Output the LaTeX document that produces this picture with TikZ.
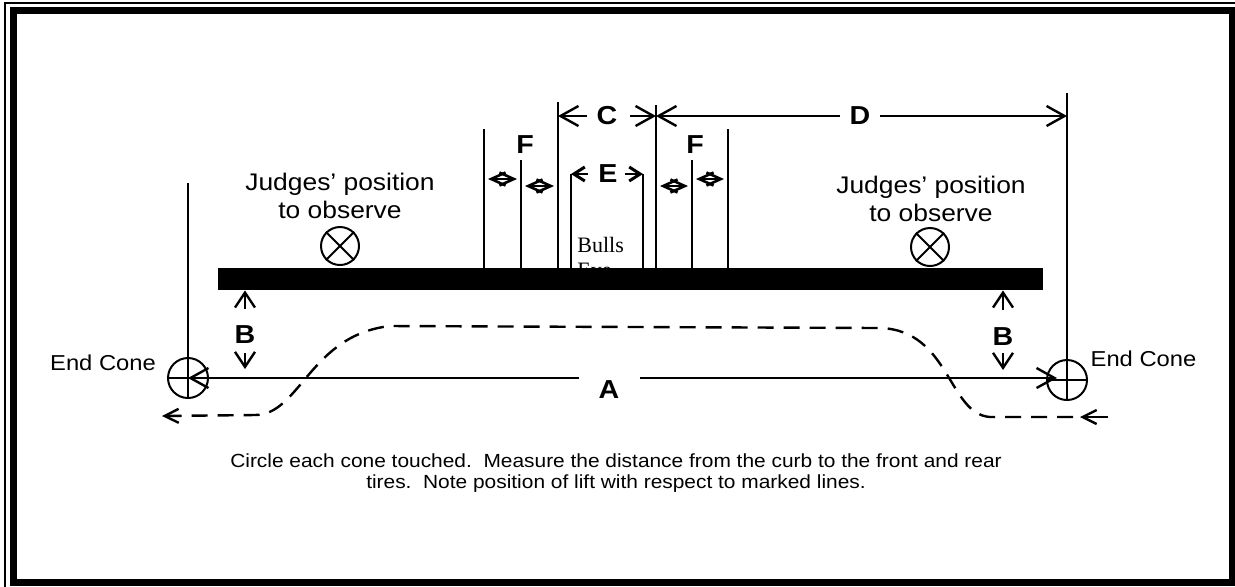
\documentclass[tikz,border=0pt]{standalone}
\usepackage{fontspec}
\setmainfont[FakeStretch=1.1]{Liberation Sans}
\newfontfamily\bullsfont{Liberation Serif}
\usepackage{tikz}
\usetikzlibrary{arrows.meta,positioning}
\tikzset{
    %Define arrow tips
    dimtip/.tip={Straight Barb[length=9pt,width=10pt,line width=1.2pt]},
    btip/.tip={Straight Barb[length=7.5pt,width=10pt,line width=1.2pt]},
    etip/.tip={Straight Barb[length=5.5pt,width=7pt,line width=1.5pt]},
    ftip/.tip={Straight Barb[length=7.2pt,width=6.5pt,line width=1.3pt]},
    rtip/.tip={Straight Barb[length=7pt,width=7pt,line width=1.2pt]},
    %Define style for cones
    cone/.style={
           circle,
           draw=black, line width=1pt,
           minimum size=20pt,
           inner sep=0pt},
    judge/.style={
           circle,
           draw=black, line width=1pt,
           minimum size=19pt,
           inner sep=0pt},
    curb/.style={
           rectangle,
           fill=black,
           minimum width=412.5pt,
           minimum height=11pt,
           inner sep=0pt},
    %Define style for texts
    letter/.style={
           font=\fontsize{13}{15}\selectfont\bfseries,
           inner sep=0pt},
    txt/.style={
           align=center,
           font=\fontsize{12}{14}\selectfont,
           inner sep=0pt},
    conetext/.style={
           font=\fontsize{10.8}{13}\selectfont,
           inner sep=0pt},
    note/.style={
           align=center,
           font=\fontsize{9.5}{10.5}\selectfont,
           inner sep=0pt},
    % Define line styles
    guide/.style={line width=1pt},
    dimline/.style={line width=1.2pt},
    fdim/.style={
           {ftip}-{ftip},
           line width=1pt,
           shorten <=2pt,
           shorten >=2pt},
    route/.style={line width=1.2pt, dash pattern=on 8pt off 5pt}
}
\begin{document}
\begin{tikzpicture}[x=0.5pt,y=-0.5pt]
\useasboundingbox (0,0) rectangle (1235,586);
 %frame
\draw[line width=0.6pt] (5,3) rectangle (1250,600);
\draw[line width=3.5pt] (13.5,10) rectangle (1232,582);

 %nodes
\node[anchor=north west, inner sep=0pt, align=left,
      font=\bullsfont\fontsize{11}{12.5}\selectfont] (bulls) at (577,237) {Bulls\\Eye};
\node[curb] (curb) at (630.5,279) {};
\node[cone] (lcone) at (188,378) {};
\node[cone] (rcone) at (1067,380) {};
\node[judge] (ljudge) at (340,246) {};
\node[judge] (rjudge) at (930,247) {};
\node[txt] (ljtext) at (340,196) {Judges’ position\\to observe};
\node[txt] (rjtext) at (931,199) {Judges’ position\\to observe};
\node[conetext] (lctext) at (103,363) {End Cone};
\node[conetext] (rctext) at (1143.5,359) {End Cone};
\node[letter] (alabel) at (609,390) {A};
\node[letter] (lb) at (245,335) {B};
\node[letter] (rb) at (1003,337) {B};
\node[letter] (clabel) at (607,116) {C};
\node[letter] (dlabel) at (860,116) {D};
\node[letter] (elabel) at (608,174) {E};
\node[letter] (lf) at (525,145) {F};
\node[letter] (rf) at (695,145) {F};
\node[note] (note) at (616,473) {Circle each cone touched.\ \ Measure the distance from the curb to the front and rear\\tires.\ \ Note position of lift with respect to marked lines.};

 %guide lines
\coordinate (lpole) at (188,183);
\coordinate (rpole) at (1067,93);
\coordinate (f1) at (484,129);
\coordinate (f2) at (521,160);
\coordinate (c1) at (558,102);
\coordinate (e1) at (571,174);
\coordinate (e2) at (643,174);
\coordinate (c2) at (656,105);
\coordinate (f3) at (692,160);
\coordinate (f4) at (728,129);
\draw[guide] (lpole) -- (lcone.south);
\draw[guide] (rpole) -- (rcone.south);
\draw[guide] (lcone.west) -- (lcone.east);
\draw[guide] (rcone.west) -- (rcone.east);
\draw[guide] (ljudge.45) -- (ljudge.225) (ljudge.135) -- (ljudge.315);
\draw[guide] (rjudge.45) -- (rjudge.225) (rjudge.135) -- (rjudge.315);
\draw[guide] (f1) -- (f1 |- curb.north);
\draw[guide] (f2) -- (f2 |- curb.north);
\draw[guide] (c1) -- (c1 |- curb.north);
\draw[guide] (e1) -- (e1 |- curb.north);
\draw[guide, line width=1.3pt] (e2) -- (e2 |- curb.north);
\draw[guide] (c2) -- (c2 |- curb.north);
\draw[guide] (f3) -- (f3 |- curb.north);
\draw[guide] (f4) -- (f4 |- curb.north);

 %dimensions
\coordinate (aleft) at (579,378);
\coordinate (aright) at (640,378);
\coordinate (atip) at (1057,378);
\draw[dimline, -dimtip] (aleft) -- (lcone.center);
\draw[dimline, -dimtip] (aright) -- (atip);
\draw[dimline, -btip] ([yshift=13pt]lb.center) -- (lb |- curb.south);
\draw[dimline, -btip] ([yshift=-9pt]lb.center) -- ([yshift=-17pt]lb.center);
\draw[dimline, -btip] ([yshift=13.5pt]rb.center) -- (rb |- curb.south);
\draw[dimline, -btip] ([yshift=-8pt]rb.center) -- ([yshift=-16.5pt]rb.center);
\draw[dimline, -dimtip] ([xshift=-10pt]clabel.center) -- (clabel -| c1);
\draw[dimline, -dimtip] ([xshift=11.5pt]clabel.center) -- (clabel -| c2);
\draw[dimline, -dimtip] ([xshift=-10pt]dlabel.center) -- (dlabel -| c2);
\draw[dimline, -dimtip] ([xshift=10pt]dlabel.center) -- (dlabel -| rpole);
\draw[dimline, -etip] ([xshift=-10pt]elabel.center) -- (elabel -| e1);
\draw[dimline, -etip] ([xshift=8.5pt]elabel.center) -- (elabel -| e2);
\draw[fdim] (f1 |- 0,179) -- (f2 |- 0,179);
\draw[fdim] (f2 |- 0,186) -- (c1 |- 0,186);
\draw[fdim] (c2 |- 0,186) -- (f3 |- 0,186);
\draw[fdim] (f3 |- 0,179) -- (f4 |- 0,179);

 %route
\coordinate (rstart) at (1108,417);
\coordinate (rmid) at (1080,417);
\draw[line width=1.2pt, -rtip] (rstart) -- (rmid);
\draw[route, -rtip] (1073,417) -- (990,417)
    .. controls (948,414) and (950,330) .. (880,328) -- (390,326)
    .. controls (310,335) and (300,415) .. (255,415) -- (162,416);
\end{tikzpicture}
\end{document}
